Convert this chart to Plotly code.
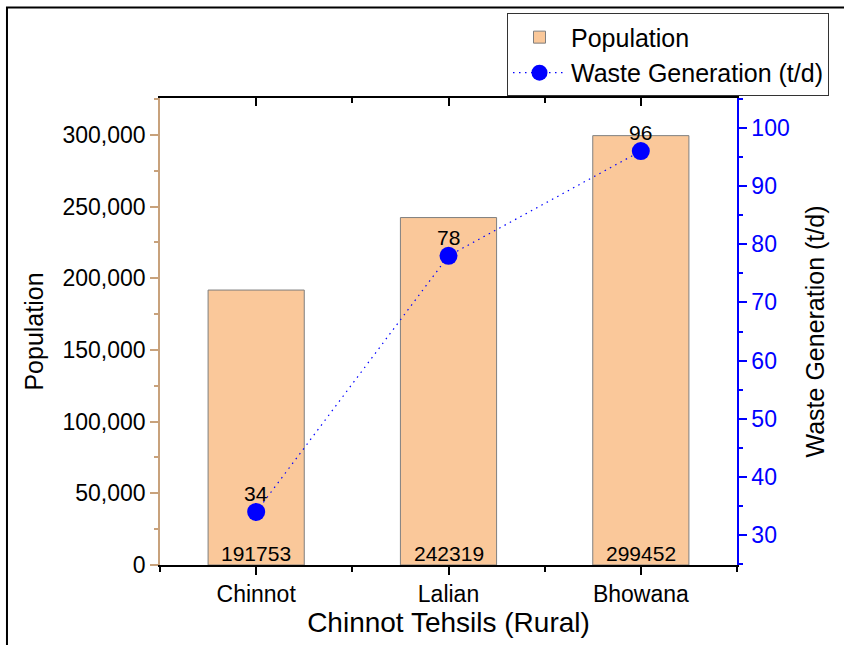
import plotly.graph_objects as go

categories = ["Chinnot", "Lalian", "Bhowana"]
population = [191753, 242319, 299452]
waste = [34, 78, 96]

x_idx = list(range(len(categories)))
bounds = [i - 0.5 for i in range(len(categories) + 1)]

FONT = "Arial, 'Liberation Sans', sans-serif"
TAN = "#C8A27C"
BLUE = "#0000FF"

fig = go.Figure()

fig.add_trace(go.Bar(
    x=x_idx, y=population, name="Population",
    width=0.5,
    marker=dict(color="#FAC89A", line=dict(color="#7F7F7F", width=1)),
    hoverinfo="skip",
))

fig.add_trace(go.Scatter(
    x=x_idx, y=waste, name="Waste Generation (t/d)", yaxis="y2",
    mode="lines+markers",
    line=dict(color=BLUE, width=1.2, dash="1.5px,4.5px"),
    marker=dict(color=BLUE, size=18),
    cliponaxis=False,
))

# dummy trace for the top (mirror) axis with inside ticks
fig.add_trace(go.Scatter(
    x=x_idx, y=[None] * len(x_idx), xaxis="x2", showlegend=False,
    hoverinfo="skip", mode="lines",
))

annotations = []
for xi, p in zip(x_idx, population):
    annotations.append(dict(
        x=xi, y=0, xref="x", yref="y", text=str(p), showarrow=False,
        yanchor="bottom", xanchor="center", yshift=-2,
        font=dict(size=21, color="black", family=FONT),
    ))
for xi, w in zip(x_idx, waste):
    annotations.append(dict(
        x=xi, y=w, xref="x", yref="y2", text=str(w), showarrow=False,
        yanchor="bottom", xanchor="center", yshift=5,
        font=dict(size=21, color="black", family=FONT),
    ))

fig.update_layout(
    width=844, height=645,
    margin=dict(l=160, r=107, t=98, b=78, pad=0),
    paper_bgcolor="white", plot_bgcolor="white",
    font=dict(family=FONT, color="black", size=23),
    annotations=annotations,
    xaxis=dict(
        range=[-0.5, 2.5], tickmode="array", tickvals=x_idx, ticktext=categories,
        ticks="outside", ticklen=8, tickwidth=1.5, tickcolor="black",
        showline=True, linecolor="black", linewidth=1.5,
        showgrid=False, zeroline=False,
        tickfont=dict(size=23),
        minor=dict(tickmode="array", tickvals=bounds, ticks="outside", ticklen=5,
                   tickwidth=1.5, tickcolor="black", showgrid=False),
        title=dict(text="Chinnot Tehsils (Rural)", font=dict(size=28), standoff=6),
    ),
    xaxis2=dict(
        overlaying="x", side="top", range=[-0.5, 2.5],
        tickmode="array", tickvals=x_idx, showticklabels=False,
        ticks="inside", ticklen=8, tickwidth=1.5, tickcolor="black",
        showline=True, linecolor="black", linewidth=1.5,
        showgrid=False, zeroline=False,
        minor=dict(tickmode="array", tickvals=bounds, ticks="inside", ticklen=5,
                   tickwidth=1.5, tickcolor="black", showgrid=False),
    ),
    yaxis=dict(
        range=[0, 325700], tick0=0, dtick=50000, tickformat=",d",
        ticks="outside", ticklen=8, tickwidth=1.5, tickcolor=TAN,
        showline=True, linecolor=TAN, linewidth=1.5,
        showgrid=False, zeroline=False,
        tickfont=dict(size=23, color="black"),
        minor=dict(dtick=25000, ticks="outside", ticklen=4, tickwidth=1.5,
                   tickcolor=TAN, showgrid=False),
        title=dict(text="Population", font=dict(size=25), standoff=12),
    ),
    yaxis2=dict(
        overlaying="y", side="right", range=[24.87, 105.13],
        tick0=0, dtick=10,
        ticks="outside", ticklen=8, tickwidth=1.5, tickcolor=BLUE,
        showline=True, linecolor=BLUE, linewidth=1.5,
        showgrid=False, zeroline=False,
        tickfont=dict(size=23, color=BLUE),
        minor=dict(dtick=5, ticks="outside", ticklen=4, tickwidth=1.5,
                   tickcolor=BLUE, showgrid=False),
        title=dict(text="Waste Generation (t/d)", font=dict(size=25, color="black"), standoff=18),
    ),
    legend=dict(
        x=0.6014, y=1.1812, xanchor="left", yanchor="top",
        bgcolor="white", bordercolor="#333333", borderwidth=1,
        font=dict(size=25, color="black"), itemwidth=53,
        tracegroupgap=0,
    ),
    showlegend=True,
    shapes=[dict(type="rect", xref="paper", yref="paper",
                 x0=-0.2652, x1=1.4, y0=-0.4, y1=1.194,
                 line=dict(color="black", width=2), fillcolor="rgba(0,0,0,0)",
                 layer="below")],
)

fig.write_html("out.html", config={"displayModeBar": False},
               post_script="document.body.style.margin='0px';")
